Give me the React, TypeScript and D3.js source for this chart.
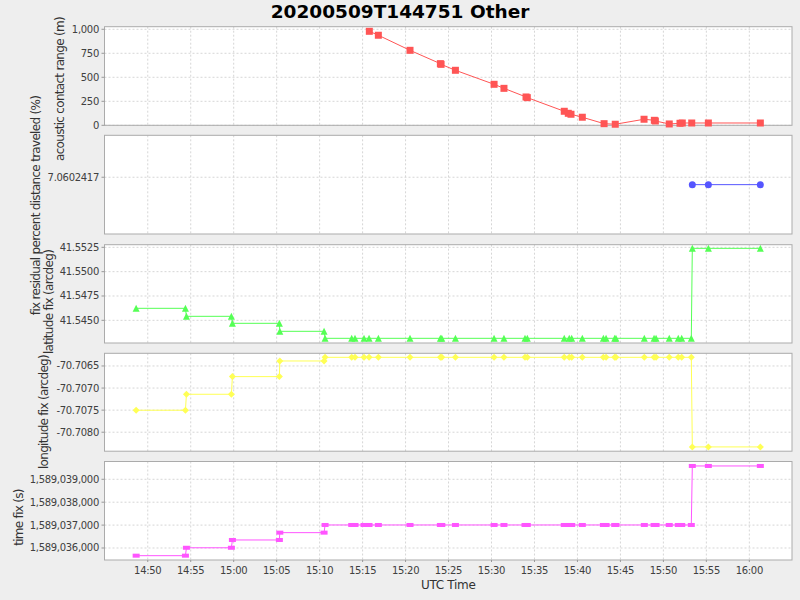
import React from "react";
import * as d3 from "d3";

const DAY = "2020-05-09";
const TITLE = "20200509T144751 Other";

// acoustic contact range (m)
const rangeTimes = [
  "15:15:47", "15:16:50", "15:20:31", "15:24:03", "15:24:08", "15:25:48", "15:30:18", "15:31:27",
  "15:34:01", "15:34:10", "15:38:28", "15:38:56", "15:39:15", "15:40:34", "15:43:06", "15:44:24",
  "15:47:45", "15:48:57", "15:49:04", "15:50:41", "15:51:56", "15:52:12", "15:53:18", "15:55:14",
  "16:01:17",
];
const rangeValues = [
  979, 938, 781, 642, 635, 573, 427, 385,
  295, 288, 146, 125, 115, 84, 17, 11,
  63, 52, 45, 14, 21, 24, 24, 24,
  24,
];

// fix residual percent distance traveled (%)
const pctTimes = ["15:53:22", "15:55:14", "16:01:17"];
const pctValues = [7.060241685, 7.060241685, 7.060241685];

// fix series (latitude / longitude / time)
const fixTimes = [
  "14:48:39", "14:54:23", "14:54:30", "14:59:44", "14:59:51", "15:05:19", "15:05:22", "15:10:31",
  "15:10:38", "15:13:44", "15:14:07", "15:15:10", "15:15:45", "15:16:50", "15:20:31", "15:24:03",
  "15:24:13", "15:25:48", "15:30:18", "15:31:27", "15:33:54", "15:34:10", "15:38:28", "15:39:03",
  "15:39:20", "15:40:34", "15:43:01", "15:43:20", "15:44:20", "15:44:29", "15:47:47", "15:48:55",
  "15:49:09", "15:50:41", "15:51:44", "15:52:08", "15:53:15", "15:53:22", "15:55:14", "16:01:17",
];
const latValues = [
  41.546233, 41.546233, 41.545411, 41.545411, 41.544692, 41.544692, 41.54387, 41.54387,
  41.543151, 41.543151, 41.543151, 41.543151, 41.543151, 41.543151, 41.543151, 41.543151,
  41.543151, 41.543151, 41.543151, 41.543151, 41.543151, 41.543151, 41.543151, 41.543151,
  41.543151, 41.543151, 41.543151, 41.543151, 41.543151, 41.543151, 41.543151, 41.543151,
  41.543151, 41.543151, 41.543151, 41.543151, 41.543151, 41.552397, 41.552397, 41.552397,
];
const lonValues = [
  -70.707502, -70.707502, -70.707141, -70.707141, -70.706741, -70.706741, -70.706387, -70.706387,
  -70.706304, -70.706304, -70.706304, -70.706304, -70.706304, -70.706304, -70.706304, -70.706304,
  -70.706304, -70.706304, -70.706304, -70.706304, -70.706304, -70.706304, -70.706304, -70.706304,
  -70.706304, -70.706304, -70.706304, -70.706304, -70.706304, -70.706304, -70.706304, -70.706304,
  -70.706304, -70.706304, -70.706304, -70.706304, -70.706304, -70.708333, -70.708333, -70.708333,
];
const timeFixValues = [
  1589035665, 1589035665, 1589036010, 1589036010, 1589036350, 1589036350, 1589036670, 1589036670,
  1589037005, 1589037005, 1589037005, 1589037005, 1589037005, 1589037005, 1589037005, 1589037005,
  1589037005, 1589037005, 1589037005, 1589037005, 1589037005, 1589037005, 1589037005, 1589037005,
  1589037005, 1589037005, 1589037005, 1589037005, 1589037005, 1589037005, 1589037005, 1589037005,
  1589037005, 1589037005, 1589037005, 1589037005, 1589037005, 1589039582, 1589039582, 1589039582,
];

// ticks
const xTickLabels = [
  "14:50", "14:55", "15:00", "15:05", "15:10", "15:15", "15:20", "15:25",
  "15:30", "15:35", "15:40", "15:45", "15:50", "15:55", "16:00",
];
const xDomainLabels = ["14:44:58", "16:04:58"];
const rangeTicks = [0, 250, 500, 750, 1000];
const pctTicks = [7.0602417];
const latTicks = [41.545, 41.5475, 41.55, 41.5525];
const lonTicks = [-70.7065, -70.707, -70.7075, -70.708];
const timeFixTicks = [1589036000, 1589037000, 1589038000, 1589039000];

const parseT = (s: string) => new Date(`${DAY}T${s.length === 5 ? s + ":00" : s}Z`);

const W = 800;
const H = 600;
const PL = 104.5;
const PR = 792;
const FONT = "'DejaVu Sans', sans-serif";

const x = d3.scaleUtc().domain(xDomainLabels.map(parseT)).range([PL, PR]);
const xTicks = xTickLabels.map(parseT);
const fmtX = d3.utcFormat("%H:%M");

type Shape = "square" | "circle" | "triangle" | "diamond" | "rect";

function marker(shape: Shape, cx: number, cy: number, color: string, key: number) {
  const s = 3.5;
  switch (shape) {
    case "square":
      return <rect key={key} x={cx - s} y={cy - s} width={2 * s} height={2 * s} fill={color} />;
    case "circle":
      return <circle key={key} cx={cx} cy={cy} r={s} fill={color} />;
    case "triangle":
      return <path key={key} d={`M${cx},${cy - s}L${cx + s},${cy + s}L${cx - s},${cy + s}Z`} fill={color} />;
    case "diamond":
      return <path key={key} d={`M${cx},${cy - s}L${cx + s},${cy}L${cx},${cy + s}L${cx - s},${cy}Z`} fill={color} />;
    case "rect":
      return <rect key={key} x={cx - s} y={cy - 2} width={2 * s} height={4} fill={color} />;
  }
}

interface PanelProps {
  top: number;
  bottom: number;
  domain: [number, number];
  ticks: number[];
  fmt: (v: number) => string;
  times: string[];
  values: number[];
  color: string;
  shape: Shape;
  label: string;
  labelX: number;
  labelY: number;
  showX: boolean;
}

function Panel(p: PanelProps) {
  const y = d3.scaleLinear().domain(p.domain).range([p.bottom, p.top]);
  const pts = p.times.map((t, i) => [x(parseT(t)), y(p.values[i])] as [number, number]);
  const line = d3.line()(pts) || "";
  return (
    <g>
      <rect x={PL} y={p.top} width={PR - PL} height={p.bottom - p.top} fill="#ffffff" />
      {xTicks.map((t, i) => (
        <line key={"vx" + i} x1={x(t)} x2={x(t)} y1={p.top} y2={p.bottom} stroke="#d6d6d6" strokeWidth={1} strokeDasharray="2,2" />
      ))}
      {p.ticks.map((v, i) => (
        <line key={"hy" + i} x1={PL} x2={PR} y1={y(v)} y2={y(v)} stroke="#d6d6d6" strokeWidth={1} strokeDasharray="2,2" />
      ))}
      <rect x={PL} y={p.top} width={PR - PL} height={p.bottom - p.top} fill="none" stroke="#ababab" strokeWidth={1} />
      {p.ticks.map((v, i) => (
        <g key={"ty" + i}>
          <line x1={PL - 3} x2={PL} y1={y(v)} y2={y(v)} stroke="#999" strokeWidth={1} />
          <text x={PL - 5.5} y={y(v)} dy="0.35em" textAnchor="end" fontSize={10} fill="#404040" style={{ letterSpacing: "-0.3px" }}>
            {p.fmt(v)}
          </text>
        </g>
      ))}
      <path d={line} fill="none" stroke={p.color} strokeWidth={1} />
      {pts.map((pt, i) => marker(p.shape, pt[0], pt[1], p.color, i))}
      <text
        transform={`translate(${p.labelX},${p.labelY}) rotate(-90)`}
        textAnchor="middle"
        dy="0.35em"
        fontSize={12}
        fill="#333"
        style={{ letterSpacing: "-0.7px" }}
      >
        {p.label}
      </text>
      {p.showX &&
        xTicks.map((t, i) => (
          <g key={"tx" + i}>
            <line x1={x(t)} x2={x(t)} y1={p.bottom} y2={p.bottom + 2} stroke="#999" strokeWidth={1} />
            <text x={x(t)} y={p.bottom + 13.5} textAnchor="middle" fontSize={10} fill="#404040" style={{ letterSpacing: "-0.3px" }}>
              {fmtX(t)}
            </text>
          </g>
        ))}
    </g>
  );
}

const commaFmt = d3.format(",");

export default function App() {
  return (
    <svg
      width={W}
      height={H}
      style={{ position: "absolute", left: 0, top: 0, display: "block" }}
      fontFamily={FONT}
    >
      <rect x={0} y={0} width={W} height={H} fill="#eeeeee" />
      <text x={400} y={18.3} textAnchor="middle" fontSize={18.5} fontWeight="bold" fill="#000">
        {TITLE}
      </text>
      <Panel
        top={26.7} bottom={125.3} domain={[0, 1027]} ticks={rangeTicks} fmt={commaFmt}
        times={rangeTimes} values={rangeValues} color="#ff5555" shape="square"
        label="acoustic contact range (m)" labelX={60} labelY={89} showX={false}
      />
      <Panel
        top={135.3} bottom={234} domain={[7.060241585, 7.060241785]} ticks={pctTicks} fmt={(v) => v.toFixed(7)}
        times={pctTimes} values={pctValues} color="#5555ff" shape="circle"
        label="fix residual percent distance traveled (%)" labelX={35.5} labelY={205.5} showX={false}
      />
      <Panel
        top={244.7} bottom={343} domain={[41.54267, 41.55277]} ticks={latTicks} fmt={(v) => v.toFixed(4)}
        times={fixTimes} values={latValues} color="#55ff55" shape="triangle"
        label="latitude fix (arcdeg)" labelX={49} labelY={302} showX={false}
      />
      <Panel
        top={353.3} bottom={451.2} domain={[-70.70843, -70.706213]} ticks={lonTicks} fmt={(v) => v.toFixed(4)}
        times={fixTimes} values={lonValues} color="#ffff55" shape="diamond"
        label="longitude fix (arcdeg)" labelX={44} labelY={412} showX={false}
      />
      <Panel
        top={461.5} bottom={560} domain={[1589035476, 1589039777]} ticks={timeFixTicks} fmt={commaFmt}
        times={fixTimes} values={timeFixValues} color="#ff55ff" shape="rect"
        label="time fix (s)" labelX={18.5} labelY={517.5} showX={true}
      />
      <text x={(PL + PR) / 2} y={585} dy="0.35em" textAnchor="middle" fontSize={12} fill="#333" style={{ letterSpacing: "-0.3px" }}>
        UTC Time
      </text>
    </svg>
  );
}
